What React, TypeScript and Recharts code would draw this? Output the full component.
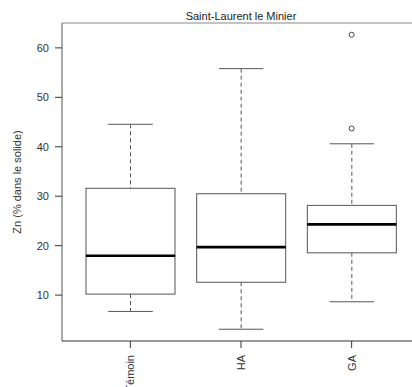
import { ComposedChart, Bar, Line, XAxis, YAxis } from "recharts";

const categories = ["Témoin", "HA", "GA"];
const lowWhisker = [6.7, 3.1, 8.65];
const q1 = [10.2, 12.6, 18.55];
const median = [17.95, 19.7, 24.3];
const q3 = [31.6, 30.5, 28.15];
const highWhisker = [44.55, 55.8, 40.6];
const outlierA = [null, null, 62.65];
const outlierB = [null, null, 43.7];
const yTicks = [10, 20, 30, 40, 50, 60];

// boxplot as a stack: invisible base, then whisker / box segments
const rows = categories.map((name, i) => ({
  name,
  base: lowWhisker[i],
  lowW: q1[i] - lowWhisker[i],
  boxLo: median[i] - q1[i],
  boxHi: q3[i] - median[i],
  highW: highWhisker[i] - q3[i],
  out1: outlierA[i],
  out2: outlierB[i],
}));

const allVals = [...lowWhisker, ...highWhisker, 62.65];
const lo = Math.min(...allVals);
const hi = Math.max(...allVals);
const ext = (hi - lo) * 0.04;

const FONT = "'Liberation Sans', Arial, sans-serif";
const EDGE = "#555";

const LowWhisker = (p: any) => {
  const cx = p.x + p.width / 2;
  const bot = p.y + p.height;
  return (
    <g>
      <line x1={cx} x2={cx} y1={p.y} y2={bot} stroke={EDGE} strokeDasharray="4 3" />
      <line x1={cx - p.width / 4} x2={cx + p.width / 4} y1={bot} y2={bot} stroke={EDGE} />
    </g>
  );
};

const HighWhisker = (p: any) => {
  const cx = p.x + p.width / 2;
  return (
    <g>
      <line x1={cx} x2={cx} y1={p.y} y2={p.y + p.height} stroke={EDGE} strokeDasharray="4 3" />
      <line x1={cx - p.width / 4} x2={cx + p.width / 4} y1={p.y} y2={p.y} stroke={EDGE} />
    </g>
  );
};

const BoxPart = (p: any) => (
  <rect x={p.x} y={p.y} width={p.width} height={p.height} fill="#fff" stroke={EDGE} />
);

// upper half of the box; its bottom edge is the median
const BoxTop = (p: any) => (
  <g>
    <rect x={p.x} y={p.y} width={p.width} height={p.height} fill="#fff" stroke={EDGE} />
    <line x1={p.x} x2={p.x + p.width} y1={p.y + p.height} y2={p.y + p.height} stroke="#000" strokeWidth={2.6} />
  </g>
);

const XTick = ({ x, y, payload }: any) => (
  <text
    x={x}
    y={y}
    dy="0.35em"
    transform={`rotate(-90, ${x}, ${y})`}
    textAnchor="end"
    fontSize={11}
    fontFamily={FONT}
    fill="#333"
  >
    {payload.value}
  </text>
);

const dotStyle = { r: 2.5, stroke: "#444", fill: "none", strokeWidth: 1 };

export default function App() {
  return (
    <div style={{ position: "absolute", left: 0, top: 0, width: 412, height: 387, overflow: "hidden", background: "#fff" }}>
      <ComposedChart
        width={420}
        height={387}
        data={rows}
        margin={{ top: 22, right: 0, bottom: 0, left: 0 }}
        style={{ fontFamily: FONT }}
      >
        <XAxis
          dataKey="name"
          type="category"
          padding={{ left: 13, right: 13 }}
          height={46}
          interval={0}
          tickSize={7}
          tickMargin={7}
          tick={<XTick />}
          tickLine={{ stroke: "#333" }}
          axisLine={{ stroke: "#333" }}
        />
        <XAxis
          xAxisId="top"
          orientation="top"
          dataKey="name"
          type="category"
          padding={{ left: 13, right: 13 }}
          height={1}
          tick={false}
          tickLine={false}
          axisLine={{ stroke: "#888" }}
          label={{
            content: ({ viewBox }: any) => (
              <text
                x={viewBox.x + viewBox.width / 2}
                y={viewBox.y - 2}
                textAnchor="middle"
                fontSize={11}
                fontFamily={FONT}
                fill="#222"
              >
                Saint-Laurent le Minier
              </text>
            ),
          }}
        />
        <YAxis
          type="number"
          width={62}
          domain={[lo - ext, hi + ext]}
          allowDataOverflow
          ticks={yTicks}
          tickSize={7}
          tickMargin={6}
          tick={{ fill: "#333", fontSize: 11, fontFamily: FONT }}
          tickLine={{ stroke: "#333" }}
          axisLine={{ stroke: "#555" }}
          label={{
            content: ({ viewBox }: any) => {
              const lx = viewBox.x + 17.5;
              const ly = viewBox.y + viewBox.height / 2;
              return (
                <text
                  x={lx}
                  y={ly}
                  dy="0.35em"
                  transform={`rotate(-90, ${lx}, ${ly})`}
                  textAnchor="middle"
                  fontSize={11}
                  fontFamily={FONT}
                  fill="#333"
                >
                  Zn (% dans le solide)
                </text>
              );
            },
          }}
        />
        <Bar dataKey="base" stackId="bp" barSize={89} shape={() => <g />} isAnimationActive={false} />
        <Bar dataKey="lowW" stackId="bp" barSize={89} shape={LowWhisker} isAnimationActive={false} />
        <Bar dataKey="boxLo" stackId="bp" barSize={89} shape={BoxPart} isAnimationActive={false} />
        <Bar dataKey="boxHi" stackId="bp" barSize={89} shape={BoxTop} isAnimationActive={false} />
        <Bar dataKey="highW" stackId="bp" barSize={89} shape={HighWhisker} isAnimationActive={false} />
        <Line dataKey="out1" stroke="none" dot={dotStyle} isAnimationActive={false} />
        <Line xAxisId="top" dataKey="out2" stroke="none" dot={dotStyle} isAnimationActive={false} />
      </ComposedChart>
    </div>
  );
}
